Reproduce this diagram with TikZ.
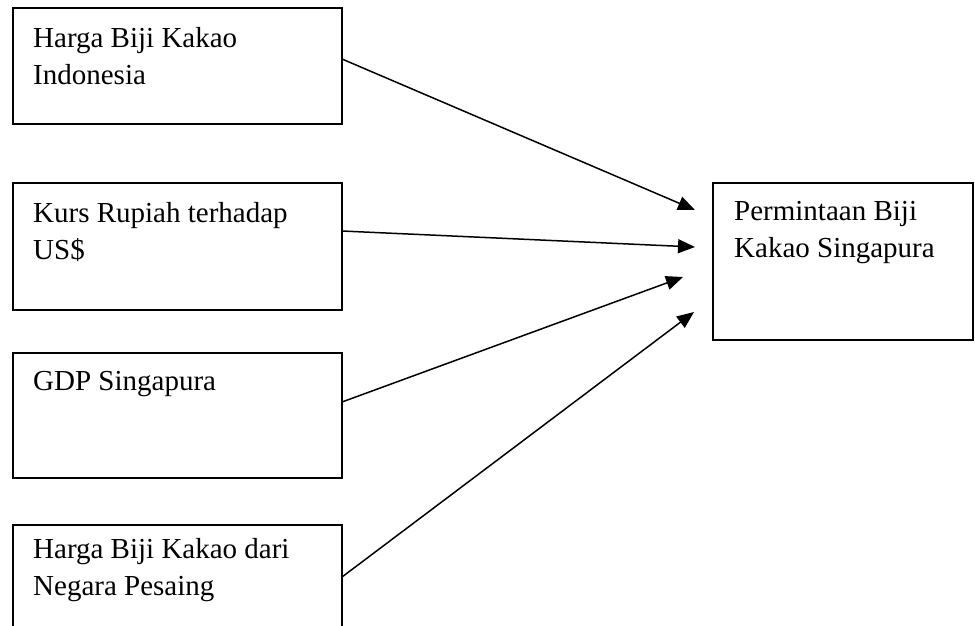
\documentclass[tikz,border=0pt]{standalone}
\usepackage{fontspec}
\setmainfont{Liberation Serif}
\usetikzlibrary{arrows.meta}
\begin{document}
\begin{tikzpicture}[x=1pt,y=-1pt,
 boxst/.style={draw,line width=2pt,inner sep=0pt,outer sep=0pt,anchor=north west},
 txt/.style={anchor=base west,inner sep=0pt,font=\fontsize{29}{37}\selectfont},
 arr/.style={line width=1.5pt,-{Triangle[length=17pt,width=14pt]}}]
\useasboundingbox (0,0) rectangle (975,625);
\clip (0,0) rectangle (975,625);
\node[boxst,minimum width=329pt,minimum height=116pt] (b1) at (13,8) {};
\node[boxst,minimum width=329pt,minimum height=127pt] (b2) at (13,183) {};
\node[boxst,minimum width=329pt,minimum height=125pt] (b3) at (13,353) {};
\node[boxst,minimum width=329pt,minimum height=140pt] (b4) at (13,525) {};
\node[boxst,minimum width=260pt,minimum height=157pt] (r) at (713,183) {};
\node[txt] (t1) at (33,47) {\parbox[t]{305pt}{Harga Biji Kakao\\Indonesia}};
\node[txt] (t2) at (33,222) {\parbox[t]{305pt}{Kurs Rupiah terhadap\\US\$}};
\node[txt] (t3) at (33,390) {\parbox[t]{305pt}{GDP Singapura}};
\node[txt] (t4) at (33,558) {\parbox[t]{305pt}{Harga Biji Kakao dari\\Negara Pesaing}};
\node[txt] (tr) at (734,220) {\parbox[t]{235pt}{Permintaan Biji\\Kakao Singapura}};
\coordinate (a1) at (695,210);
\coordinate (a2) at (695,247);
\coordinate (a3) at (683,277);
\coordinate (a4) at (694,312);
\draw[arr] ([yshift=-51pt]b1.north east) -- (a1);
\draw[arr] ([yshift=-48pt]b2.north east) -- (a2);
\draw[arr] ([yshift=-49pt]b3.north east) -- (a3);
\draw[arr] ([yshift=-52pt]b4.north east) -- (a4);
\end{tikzpicture}
\end{document}
